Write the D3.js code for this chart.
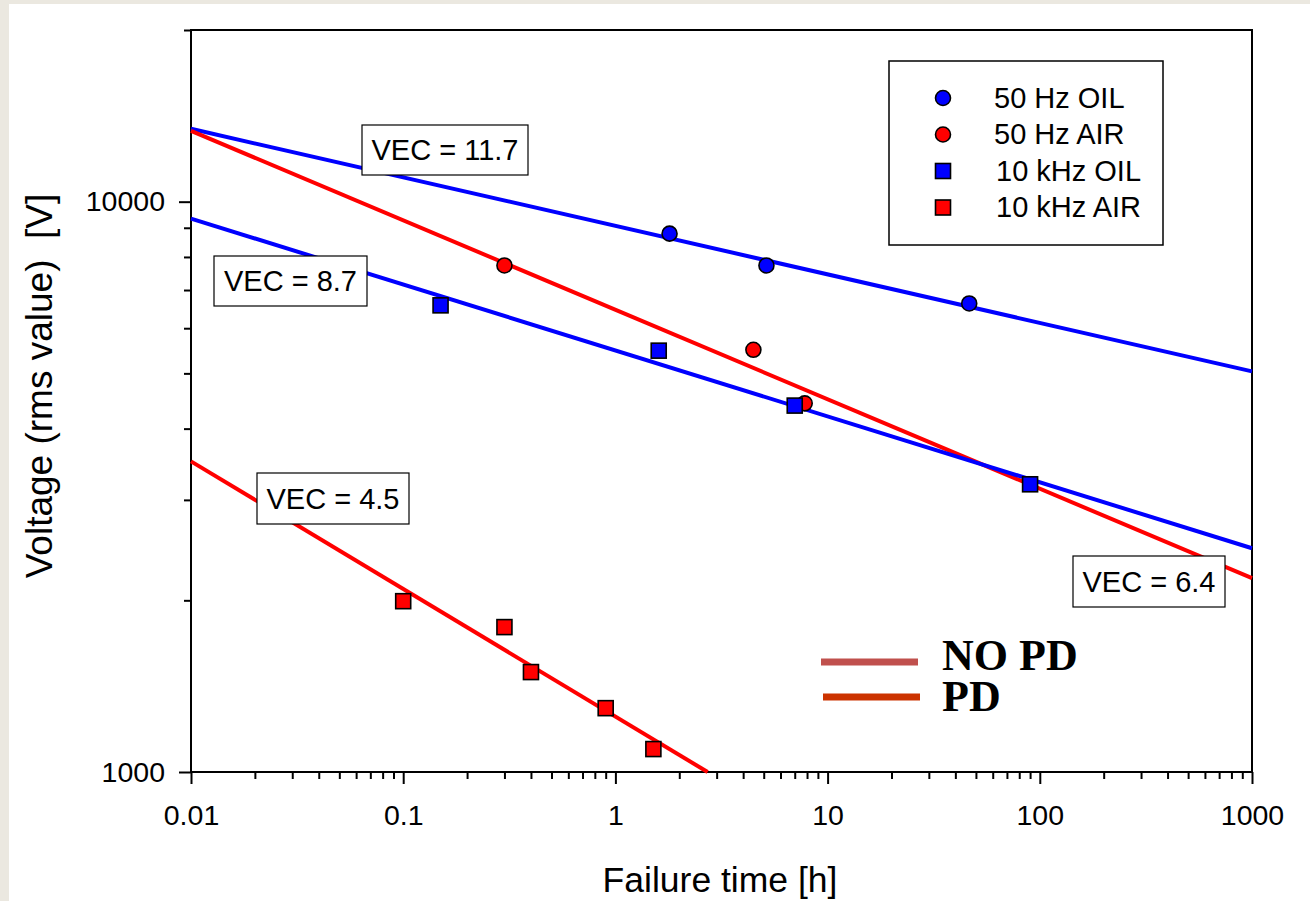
<!DOCTYPE html>
<html>
<head>
<meta charset="utf-8">
<script src="https://cdn.jsdelivr.net/npm/d3@7"></script>
<style>
  html, body { margin: 0; padding: 0; background: #ebe8e0; }
  svg { display: block; }
</style>
</head>
<body>
<svg id="chart" width="1310" height="901"></svg>
<script>
// ---------- data ----------
const oil50x = [1.80, 5.15, 46.5];
const oil50y = [8790, 7730, 6630];
const air50x = [0.30, 4.47, 7.8];
const air50y = [7730, 5500, 4430];
const oil10kx = [0.15, 1.60, 7.0, 90];
const oil10ky = [6580, 5480, 4390, 3195];
const air10kx = [0.10, 0.30, 0.40, 0.90, 1.51];
const air10ky = [1993, 1795, 1497, 1294, 1097];

// fitted lines (end points)
const fitOil50 = [[0.01, 13420], [1000, 5040]];
const fitAir50 = [[0.01, 13310], [1000, 2187]];
const fitOil10k = [[0.01, 9340], [1000, 2468]];
const fitAir10k = [[0.01, 3505], [2.72, 1000]];

const vecLabels = ["VEC = 11.7", "VEC = 8.7", "VEC = 4.5", "VEC = 6.4"];
const legendNames = ["50 Hz OIL", "50 Hz AIR", "10 kHz OIL", "10 kHz AIR"];
const pdNames = ["NO PD", "PD"];

const xMajor = [0.01, 0.1, 1, 10, 100, 1000];
const xMajorLabels = ["0.01", "0.1", "1", "10", "100", "1000"];
const yMajor = [1000, 10000];
const yMajorLabels = ["1000", "10000"];

const xTitle = "Failure time [h]";
const yTitle = "Voltage (rms value)  [V]";

// ---------- layout ----------
const SANS = "Arial, 'Liberation Sans', sans-serif";
const SERIF = "'Times New Roman', 'Liberation Serif', serif";
const svg = d3.select("#chart");
const L = 191, R = 1252, T = 30, B = 772;
const BLUE = "#0000ff", RED = "#ff0000";

svg.append("rect").attr("x", 9).attr("y", 4).attr("width", 1301).attr("height", 897).attr("fill", "#ffffff");

const x = d3.scaleLog().domain([0.01, 1000]).range([L, R]);
const y = d3.scaleLog().domain([1000, 20000]).range([B, T]);

// minor ticks
const xMinor = [];
for (let d = 0.01; d < 1000; d *= 10) for (let k = 2; k <= 9; k++) xMinor.push(+(d * k).toPrecision(3));
const yMinor = [];
for (let d = 1000; d < 20000; d *= 10) for (let k = 2; k <= 9; k++) if (d * k <= 20000) yMinor.push(d * k);

// plot frame
svg.append("rect").attr("x", L).attr("y", T).attr("width", R - L).attr("height", B - T)
  .attr("fill", "#ffffff").attr("stroke", "#000").attr("stroke-width", 2);

// axes
const gx = svg.append("g").attr("transform", `translate(0,${B})`);
gx.call(d3.axisBottom(x).tickValues(xMinor).tickSize(7).tickFormat(""));
const gxM = svg.append("g").attr("transform", `translate(0,${B})`);
gxM.call(d3.axisBottom(x).tickValues(xMajor).tickSize(12).tickPadding(21)
  .tickFormat((d, i) => xMajorLabels[i]));
const gy = svg.append("g").attr("transform", `translate(${L},0)`);
gy.call(d3.axisLeft(y).tickValues(yMinor).tickSize(7).tickFormat(""));
const gyM = svg.append("g").attr("transform", `translate(${L},0)`);
gyM.call(d3.axisLeft(y).tickValues(yMajor).tickSize(12).tickPadding(14)
  .tickFormat((d, i) => yMajorLabels[i]));
[gx, gxM, gy, gyM].forEach(g => {
  g.select(".domain").remove();
  g.selectAll(".tick line").attr("stroke", "#000").attr("stroke-width", 2);
  g.selectAll("text").attr("font-size", 28.5).attr("fill", "#000").style("font-family", SANS);
});

// axis titles
svg.append("text").attr("x", 720).attr("y", 892).attr("text-anchor", "middle")
  .style("font-family", SANS).attr("font-size", 35.5).text(xTitle);
svg.append("text").attr("transform", "translate(52,386) rotate(-90)").attr("text-anchor", "middle")
  .style("font-family", SANS).attr("font-size", 37).style("white-space", "pre").text(yTitle);

// fit lines
const line = d3.line().x(d => x(d[0])).y(d => y(d[1]));
const fits = [[fitOil50, BLUE], [fitAir50, RED], [fitOil10k, BLUE], [fitAir10k, RED]];
fits.forEach(([pts, c]) => {
  svg.append("path").attr("d", line(pts)).attr("fill", "none").attr("stroke", c).attr("stroke-width", 4);
});

// markers
function circles(xs, ys, c) {
  svg.append("g").selectAll("circle").data(xs).join("circle")
    .attr("cx", d => x(d)).attr("cy", (d, i) => y(ys[i])).attr("r", 7.5)
    .attr("fill", c).attr("stroke", "#000").attr("stroke-width", 1.6);
}
function squares(xs, ys, c) {
  const s = 15;
  svg.append("g").selectAll("rect").data(xs).join("rect")
    .attr("x", d => x(d) - s / 2).attr("y", (d, i) => y(ys[i]) - s / 2)
    .attr("width", s).attr("height", s)
    .attr("fill", c).attr("stroke", "#000").attr("stroke-width", 1.6);
}
circles(oil50x, oil50y, BLUE);
circles(air50x, air50y, RED);
squares(oil10kx, oil10ky, BLUE);
squares(air10kx, air10ky, RED);

// VEC labels (boxes)
const vecBoxes = [[362, 125, 166, 50], [214, 256, 153, 50], [257, 473, 152, 51], [1073, 556, 152, 51]];
vecLabels.forEach((t, i) => {
  const [bx, by, bw, bh] = vecBoxes[i];
  svg.append("rect").attr("x", bx).attr("y", by).attr("width", bw).attr("height", bh)
    .attr("fill", "#fff").attr("stroke", "#000").attr("stroke-width", 1.2);
  svg.append("text").attr("x", bx + bw / 2).attr("y", by + bh / 2 + 10).attr("text-anchor", "middle")
    .style("font-family", SANS).attr("font-size", 29).text(t);
});

// legend
svg.append("rect").attr("x", 889).attr("y", 61).attr("width", 274).attr("height", 184)
  .attr("fill", "#fff").attr("stroke", "#000").attr("stroke-width", 1.5);
const legendColors = [BLUE, RED, BLUE, RED];
const legendShapes = ["c", "c", "s", "s"];
legendNames.forEach((n, i) => {
  const cy = 98 + i * 36.5;
  if (legendShapes[i] === "c") {
    svg.append("circle").attr("cx", 943).attr("cy", cy).attr("r", 7.5)
      .attr("fill", legendColors[i]).attr("stroke", "#000").attr("stroke-width", 1.6);
  } else {
    svg.append("rect").attr("x", 943 - 7.5).attr("y", cy - 7.5).attr("width", 15).attr("height", 15)
      .attr("fill", legendColors[i]).attr("stroke", "#000").attr("stroke-width", 1.6);
  }
  svg.append("text").attr("x", legendShapes[i] === "c" ? 994 : 996).attr("y", cy + 9.5)
    .style("font-family", SANS).attr("font-size", 29).text(n);
});

// PD legend
const pdColors = ["#c0504d", "#cc3300"];
const pdY = [662, 697];
const pdX = [821, 823];
pdNames.forEach((n, i) => {
  svg.append("line").attr("x1", pdX[i]).attr("x2", pdX[i] + 97).attr("y1", pdY[i]).attr("y2", pdY[i])
    .attr("stroke", pdColors[i]).attr("stroke-width", 7);
  svg.append("text").attr("x", 942).attr("y", [670, 711][i])
    .style("font-family", SERIF)
    .attr("font-weight", "bold").attr("font-size", 44).text(n);
});
</script>
</body>
</html>
